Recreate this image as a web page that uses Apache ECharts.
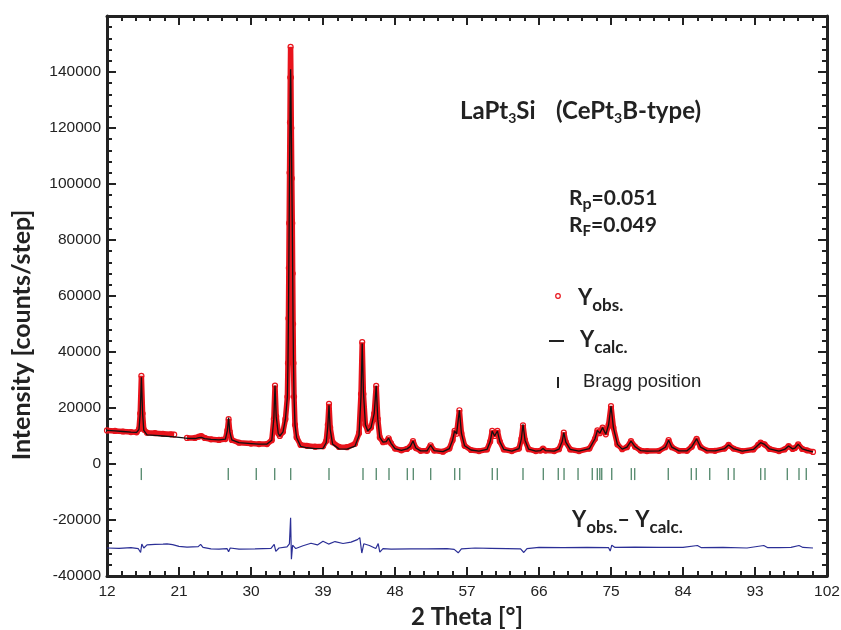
<!DOCTYPE html>
<html>
<head>
<meta charset="utf-8">
<script src="https://cdn.jsdelivr.net/npm/echarts@6/dist/echarts.min.js"></script>
<style>
  html, body { margin: 0; padding: 0; background: #fff; }
  #main { width: 841px; height: 630px; }
</style>
</head>
<body>
<div id="main"></div>
<script>
const twoTheta = [12.0, 13.0, 14.0, 15.0, 15.7, 16.0, 16.15, 16.3, 16.45, 16.6, 17.0, 18.0, 19.0, 20.0, 20.4, 21.0, 21.6,
  22.0, 23.0, 23.5, 23.8, 24.2, 25.0, 26.0, 26.8, 27.05, 27.2, 27.35, 27.6, 28.5, 30.0, 31.0, 32.0, 32.6, 32.85, 33.0,
  33.15, 33.4, 33.6, 34.0, 34.3, 34.55, 34.62, 34.68, 34.73, 34.77, 34.82, 34.87, 34.91, 34.95, 34.99, 35.04, 35.10,
  35.16, 35.21, 35.26, 35.31, 35.38, 35.5, 35.7, 36.2, 37.0, 38.0, 39.0, 39.4, 39.6, 39.75, 39.9, 40.2, 41.0, 42.0,
  43.0, 43.5, 43.75, 43.9, 44.05, 44.3, 44.6, 45.0, 45.4, 45.65, 45.85, 46.1, 46.5, 46.9, 47.2, 47.5, 48.0, 48.8,
  49.5, 49.9, 50.25, 50.6, 51.2, 52.0, 52.45, 52.9, 54.0, 54.8, 55.2, 55.45, 55.7, 56.05, 56.3, 56.7, 57.5, 58.5,
  59.5, 59.9, 60.15, 60.45, 60.8, 61.1, 61.6, 62.6, 63.5, 63.8, 64.0, 64.25, 64.7, 65.6, 66.2, 66.5, 66.8, 67.9,
  68.5, 68.9, 69.1, 69.35, 69.9, 71.0, 72.3, 73.0, 73.3, 73.6, 73.95, 74.35, 74.7, 75.0, 75.3, 75.8, 76.4, 77.0,
  77.5, 78.0, 78.7, 79.5, 81.0, 81.8, 82.2, 82.6, 83.5, 84.5, 85.1, 85.7, 86.2, 87.0, 88.0, 89.2, 89.7, 90.3, 91.4,
  92.8, 93.4, 93.7, 94.2, 94.8, 96.0, 96.7, 97.2, 97.7, 98.0, 98.4, 98.9, 99.5, 100.25];

const yObs = [12000, 11800, 11600, 11400, 11300, 12500, 18000, 31500, 18000, 12300, 11200, 11000, 10800, 10600, 10500, null, null,
  9300, 9300, 9800, 10000, 9300, 8800, 8600, 8900, 12000, 16000, 11500, 8600, 7600, 7300, 7100, 7100, 8500, 16000, 28000,
  17000, 11000, 10000, 11500, 16000, 24000, 36000, 52000, 70000, 86000, 104000, 122000, 138000, 149000, 138000, 120000, 102000,
  86000, 68000, 50000, 36000, 24000, 14000, 9500, 6800, 6500, 6200, 6300, 8200, 14000, 21500, 13000, 7800, 6100, 6000,
  7200, 11000, 25000, 43500, 25000, 14000, 11800, 13000, 18000, 27900, 16000, 9500, 7800, 8000, 9200, 7400, 5500, 4900,
  5400, 6200, 8200, 5700, 4700, 4700, 6700, 4800, 4400, 5500, 8500, 11800, 10800, 19200, 11000, 6500, 5000, 4600,
  5200, 8000, 11800, 10000, 11800, 8000, 5200, 4600, 5500, 9000, 13800, 8500, 5300, 4600, 4800, 5500, 4800, 4600,
  5300, 8000, 11200, 7800, 5200, 4600, 5500, 9000, 12000, 11000, 13000, 10600, 14000, 20700, 13000, 7000, 5300, 6000,
  8200, 6200, 4800, 4600, 4700, 6000, 8500, 6000, 4700, 4700, 6200, 9000, 6000, 4800, 4700, 5500, 6800, 5500, 4600,
  5200, 6800, 7600, 7000, 5400, 4600, 5200, 6400, 5400, 5700, 7000, 5400, 4900, 4300];

const yCalc = [12000, 11800, 11600, 11400, 11300, 12400, 18000, 31000, 18000, 12000, 10400, 10200, 10000, 9800, 9700, 9500, 9300,
  9200, 9100, 9400, 9500, 9100, 8800, 8600, 8900, 12000, 16600, 11500, 8600, 7600, 7300, 7100, 7100, 8500, 16000, 28000,
  17000, 11000, 10000, 11500, 16000, 24000, 36000, 52000, 70000, 86000, 104000, 120000, 133000, 141000, 134000, 119000, 102000,
  86000, 68000, 50000, 36000, 24000, 14000, 9500, 6300, 5800, 5500, 5600, 7600, 13400, 21000, 12400, 7100, 5400, 5300,
  6400, 10200, 24000, 43000, 26000, 14000, 11800, 13000, 18000, 27900, 16000, 9500, 7800, 8000, 9200, 7400, 5500, 4900,
  5400, 6200, 8200, 5700, 4700, 4700, 6700, 4800, 4400, 5500, 8500, 11800, 10800, 19200, 11000, 6500, 5000, 4600,
  5200, 8000, 11800, 10000, 11800, 8000, 5200, 4600, 5500, 9000, 14200, 8500, 5300, 4600, 4800, 5500, 4800, 4600,
  5300, 8000, 11200, 7800, 5200, 4600, 5500, 9000, 12000, 11000, 13000, 10600, 14000, 20700, 13000, 7000, 5300, 6000,
  8200, 6200, 4800, 4600, 4700, 6000, 8500, 6000, 4700, 4700, 6200, 9000, 6000, 4800, 4700, 5500, 6800, 5500, 4600,
  5200, 6800, 7600, 7000, 5400, 4600, 5200, 6400, 5400, 5700, 7000, 5400, 4900, 4300];

// difference curve (Yobs - Ycalc), plotted with -30000 offset as in the figure
const diffTheta = [12.0, 13.5, 15.0, 15.9, 16.2, 16.35, 16.6, 17.0, 18.0, 19.0, 19.5, 20.2, 21.0, 22.0, 23.4, 23.7, 24.0,
  25.0, 26.0, 27.0, 27.2, 27.4, 28.5, 30.5, 32.5, 32.9, 33.1, 33.5, 34.5, 34.8, 34.95, 35.05, 35.2, 35.6, 36.5, 37.5,
  38.3, 39.0, 39.7, 40.5, 41.5, 42.5, 43.3, 43.6, 43.85, 44.1, 44.8, 45.6, 45.9, 46.1, 46.5, 47.5, 50.0, 52.0, 54.5,
  55.4, 55.9, 56.3, 58.0, 60.0, 62.0, 63.7, 64.1, 64.5, 66.0, 69.0, 72.0, 74.7, 74.9, 75.1, 75.5, 78.0, 81.0, 84.0,
  85.8, 86.3, 89.0, 92.0, 94.1, 94.6, 96.0, 97.5, 98.5, 99.0, 100.25];
const yDiff = [-30000, -30100, -29900, -30200, -31600, -28600, -30000, -28900, -28700, -28600, -28500, -28800, -29400, -29700, -29500, -28700, -29800,
  -30300, -30400, -30200, -31300, -30000, -30400, -30300, -30100, -28700, -31200, -30000, -29600, -28500, -19200, -34000, -29000, -30200, -29200, -28300,
  -28900, -27600, -28600, -27700, -28400, -27900, -27000, -26300, -31800, -28500, -29100, -30200, -28400, -31500, -30200, -30400, -30300, -30300, -30200,
  -30500, -31700, -30300, -30000, -30100, -30200, -30300, -31600, -30200, -29800, -29900, -29800, -29900, -31100, -29000, -29800, -29700, -29800, -29800,
  -29100, -29900, -29800, -30000, -29100, -29900, -29900, -29800, -29100, -29800, -30000];

// Bragg reflection positions (2 theta)
const braggPos = [16.29, 27.16, 30.66, 32.96, 34.96, 39.75, 44.0, 45.66, 47.25, 49.54, 50.29, 52.46, 55.46, 56.09,
  60.16, 60.79, 64.0, 66.54, 68.41, 69.13, 70.88, 72.66, 73.29, 73.6, 73.84, 75.09, 77.54, 77.96, 82.16, 85.04,
  85.66, 87.34, 89.66, 90.38, 93.71, 94.25, 97.04, 98.5, 99.41];
const braggLevel = -3600;

// axis ticks
const xTicks = [12, 21, 30, 39, 48, 57, 66, 75, 84, 93, 102];
const xMinorTicks = [];
for (let i = 0; i < xTicks.length - 1; i++) {
  for (let k = 1; k < 5; k++) xMinorTicks.push(xTicks[i] + k * (xTicks[i + 1] - xTicks[i]) / 5);
}

const ink = '#222';
const red = '#e8141c';
const titleFont = 'Lato, "DejaVu Sans", sans-serif';
const tickFont = '"Liberation Sans", Arial, sans-serif';

const chartDom = document.getElementById('main');
const myChart = echarts.init(chartDom);

const obsData = twoTheta.map((x, i) => [x, yObs[i]]);
const calcData = twoTheta.map((x, i) => [x, yCalc[i]]);
const diffData = diffTheta.map((x, i) => [x, yDiff[i]]);
const braggData = braggPos.map(x => [x, braggLevel]);

const xBase = {
  type: 'value', min: 12, max: 102, gridIndex: 0,
  splitLine: { show: false }
};
const yBase = {
  type: 'value', min: -40000, max: 160000, interval: 20000,
  splitLine: { show: false },
  axisLine: { show: true, lineStyle: { color: ink, width: 3 } },
  axisTick: { show: true, inside: true, length: 9, lineStyle: { color: ink, width: 2 } },
  minorTick: { show: true, splitNumber: 5, length: 5, lineStyle: { color: ink, width: 2 } }
};

// rich text styles for the formula-like labels
const bigText = size => ({ fontFamily: titleFont, fontWeight: 'bold', fontSize: size, fill: ink });
const subText = (size, drop) => ({ fontFamily: titleFont, fontWeight: 'bold', fontSize: size, fill: ink, padding: [drop, 0, 0, 0] });

const option = {
  animation: false,
  backgroundColor: '#fff',
  grid: { left: 107, right: 14, top: 16, bottom: 54, containLabel: false, outerBoundsMode: 'none' },
  xAxis: [
    Object.assign({}, xBase, {
      position: 'bottom',
      axisLine: { show: true, onZero: false, lineStyle: { color: ink, width: 3 } },
      axisTick: { show: true, inside: true, length: 9, customValues: xTicks, lineStyle: { color: ink, width: 2 } },
      axisLabel: { customValues: xTicks, fontFamily: tickFont, fontSize: 15.5, color: ink, margin: 8 },
      name: '2 Theta [°]', nameLocation: 'middle', nameGap: 20,
      nameTextStyle: { fontFamily: titleFont, fontWeight: 'bold', fontSize: 24, color: ink }
    }),
    Object.assign({}, xBase, {
      position: 'bottom',
      axisLine: { show: false, onZero: false },
      axisTick: { show: true, inside: true, length: 5, customValues: xMinorTicks, lineStyle: { color: ink, width: 2 } },
      axisLabel: { show: false }
    }),
    Object.assign({}, xBase, {
      position: 'top',
      axisLine: { show: true, onZero: false, lineStyle: { color: ink, width: 3 } },
      axisTick: { show: true, inside: true, length: 9, customValues: xTicks, lineStyle: { color: ink, width: 2 } },
      axisLabel: { show: false }
    }),
    Object.assign({}, xBase, {
      position: 'top',
      axisLine: { show: false, onZero: false },
      axisTick: { show: true, inside: true, length: 5, customValues: xMinorTicks, lineStyle: { color: ink, width: 2 } },
      axisLabel: { show: false }
    })
  ],
  yAxis: [
    Object.assign({}, yBase, {
      position: 'left',
      axisLabel: { fontFamily: tickFont, fontSize: 15.5, color: ink, margin: 6, showMaxLabel: false,
        formatter: v => String(v) }
    }),
    Object.assign({}, yBase, {
      position: 'right',
      axisLabel: { show: false }
    })
  ],
  series: [
    {
      name: 'Yobs.', type: 'line', data: obsData, connectNulls: false,
      xAxisIndex: 0, yAxisIndex: 0,
      lineStyle: { color: red, width: 5.5 },
      symbol: 'circle', symbolSize: 5, showAllSymbol: true,
      itemStyle: { color: 'rgba(255,255,255,0)', borderColor: red, borderWidth: 1.2 },
      z: 2
    },
    {
      name: 'Ycalc.', type: 'line', data: calcData,
      xAxisIndex: 0, yAxisIndex: 0,
      lineStyle: { color: '#111', width: 1.3 },
      symbol: 'none', z: 3
    },
    {
      name: 'Bragg position', type: 'scatter', data: braggData,
      xAxisIndex: 0, yAxisIndex: 0,
      symbol: 'rect', symbolSize: [1.4, 12],
      itemStyle: { color: '#3f7a5a', opacity: 0.85 }
    },
    {
      name: 'Yobs.- Ycalc.', type: 'line', data: diffData,
      xAxisIndex: 0, yAxisIndex: 0,
      lineStyle: { color: '#2b2f96', width: 1.2 },
      symbol: 'none', z: 2
    }
  ],
  graphic: [
    // y axis title, centred where the original places it
    {
      type: 'text', x: 22, y: 335, rotation: Math.PI / 2,
      style: { text: 'Intensity [counts/step]', align: 'center', verticalAlign: 'middle',
        fontFamily: titleFont, fontWeight: 'bold', fontSize: 25, fill: ink }
    },
    {
      type: 'text', x: 460, y: 111,
      style: { text: '{b|LaPt}{s|3}{b|Si}', verticalAlign: 'middle', rich: { b: bigText(24), s: subText(14, 14) } }
    },
    {
      type: 'text', x: 556, y: 111,
      style: { text: '{b|(CePt}{s|3}{b|B-type)}', verticalAlign: 'middle', rich: { b: bigText(24), s: subText(14, 14) } }
    },
    {
      type: 'text', x: 569, y: 198,
      style: { text: '{b|R}{s|p}{b|=0.051}', verticalAlign: 'middle', rich: { b: bigText(21), s: subText(16, 12) } }
    },
    {
      type: 'text', x: 569, y: 225,
      style: { text: '{b|R}{s|F}{b|=0.049}', verticalAlign: 'middle', rich: { b: bigText(21), s: subText(15, 12) } }
    },
    // legend
    { type: 'circle', shape: { cx: 558, cy: 296, r: 2.3 }, style: { fill: 'none', stroke: red, lineWidth: 1.2 } },
    {
      type: 'text', x: 578, y: 298,
      style: { text: '{b|Y}{s|obs.}', verticalAlign: 'middle', rich: { b: bigText(22), s: subText(17, 16) } }
    },
    { type: 'line', shape: { x1: 549, y1: 341, x2: 564, y2: 341 }, style: { stroke: ink, lineWidth: 2 } },
    {
      type: 'text', x: 580, y: 340,
      style: { text: '{b|Y}{s|calc.}', verticalAlign: 'middle', rich: { b: bigText(22), s: subText(17, 16) } }
    },
    { type: 'rect', shape: { x: 557, y: 377, width: 2, height: 11 }, style: { fill: ink } },
    {
      type: 'text', x: 583, y: 382,
      style: { text: 'Bragg position', verticalAlign: 'middle', fontFamily: tickFont, fontSize: 18.5, fill: ink }
    },
    {
      type: 'text', x: 572, y: 520,
      style: { text: '{b|Y}{s|obs.}{b|– Y}{s|calc.}', verticalAlign: 'middle', rich: { b: bigText(22), s: subText(17, 16) } }
    }
  ]
};

myChart.setOption(option);
</script>
</body>
</html>
